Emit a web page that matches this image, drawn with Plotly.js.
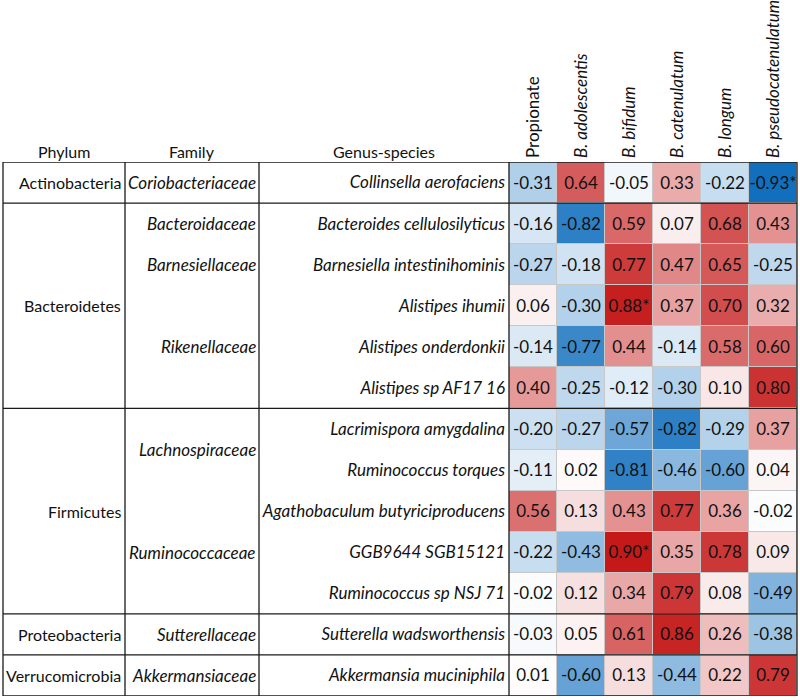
<!DOCTYPE html>
<html><head><meta charset="utf-8">
<script src="https://cdn.plot.ly/plotly-3.0.1.min.js"></script>
<style>html,body{margin:0;padding:0;background:#fff}</style>
</head><body><div id="chart" style="width:800px;height:700px"></div>
<script>
// ---- data ----
const columns = ["Propionate", "B. adolescentis", "B. bifidum", "B. catenulatum", "B. longum", "B. pseudocatenulatum"];
const columnLabels = ["Propionate", "<i>B. adolescentis</i>", "<i>B. bifidum</i>", "<i>B. catenulatum</i>", "<i>B. longum</i>", "<i>B. pseudocatenulatum</i>"];

const species = ["Collinsella aerofaciens", "Bacteroides cellulosilyticus", "Barnesiella intestinihominis",
  "Alistipes ihumii", "Alistipes onderdonkii", "Alistipes sp AF17 16", "Lacrimispora amygdalina",
  "Ruminococcus torques", "Agathobaculum butyriciproducens", "GGB9644 SGB15121", "Ruminococcus sp NSJ 71",
  "Sutterella wadsworthensis", "Akkermansia muciniphila"];

const phylumNames = ["Actinobacteria", "Bacteroidetes", "Firmicutes", "Proteobacteria", "Verrucomicrobia"];
const phylumSizes = [1, 5, 5, 1, 1];
const familyNames = ["Coriobacteriaceae", "Bacteroidaceae", "Barnesiellaceae", "Rikenellaceae", "Lachnospiraceae",
  "Ruminococcaceae", "Sutterellaceae", "Akkermansiaceae"];
const familySizes = [1, 1, 1, 3, 2, 3, 1, 1];

const propionate    = [-0.31, -0.16, -0.27, 0.06, -0.14, 0.40, -0.20, -0.11, 0.56, -0.22, -0.02, -0.03, 0.01];
const adolescentis  = [0.64, -0.82, -0.18, -0.30, -0.77, -0.25, -0.27, 0.02, 0.13, -0.43, 0.12, 0.05, -0.60];
const bifidum       = [-0.05, 0.59, 0.77, 0.88, 0.44, -0.12, -0.57, -0.81, 0.43, 0.90, 0.34, 0.61, 0.13];
const catenulatum   = [0.33, 0.07, 0.47, 0.37, -0.14, -0.30, -0.82, -0.46, 0.77, 0.35, 0.79, 0.86, -0.44];
const longum        = [-0.22, 0.68, 0.65, 0.70, 0.58, 0.10, -0.29, -0.60, 0.36, 0.78, 0.08, 0.26, 0.22];
const pseudocatenulatum = [-0.93, 0.43, -0.25, 0.32, 0.60, 0.80, 0.37, 0.04, -0.02, 0.09, -0.49, -0.38, 0.79];

// significant cells: [row, column]
const significant = [[0, 5], [3, 2], [9, 2]];

// ---- build ----
const series = [propionate, adolescentis, bifidum, catenulatum, longum, pseudocatenulatum];
const z = species.map((s, i) => series.map(col => col[i]));
const text = z.map((row, i) => row.map((v, j) =>
  v.toFixed(2) + (significant.some(p => p[0] === i && p[1] === j) ? "*" : "")));

const W = 800, H = 700;
const px = x => x / W;
const py = y => (H - y) / H;
const FONT = "Lato, 'Open Sans', sans-serif";
const FS = 17;

const trace = {
  type: "heatmap",
  x: columns, y: species, z: z,
  text: text, texttemplate: "%{text}",
  textfont: {size: FS, color: "#111", family: FONT},
  zmin: -1, zmax: 1,
  colorscale: [[0, "rgb(0,100,185)"], [0.5, "rgb(255,255,255)"], [1, "rgb(190,0,0)"]],
  showscale: false, xgap: 1, ygap: 1, hoverinfo: "skip"
};

const shapes = [];
const lineStyle = {color: "#1a1a1a", width: 1.3};
const nRows = species.length;
[3, 125, 259, 509, 797].forEach(x => shapes.push({type: "line", xref: "paper", yref: "y",
  x0: px(x), x1: px(x), y0: -0.5, y1: nRows - 0.5, line: lineStyle}));
let cum = 0;
const bounds = [-0.5];
phylumSizes.forEach(s => { cum += s; bounds.push(cum - 0.5); });
bounds.forEach(b => shapes.push({type: "line", xref: "paper", yref: "y",
  x0: px(3), x1: px(797), y0: b, y1: b, line: lineStyle}));

const annotations = [];
function groupLabels(names, sizes, xPix, italic, size) {
  let start = 0;
  names.forEach((n, k) => {
    const center = start + (sizes[k] - 1) / 2;
    annotations.push({xref: "paper", yref: "y", x: px(xPix), y: center, xanchor: "right", yanchor: "middle",
      text: italic ? "<i>" + n + "</i>" : n, showarrow: false, font: {size: size, color: "#111", family: FONT}});
    start += sizes[k];
  });
}
groupLabels(phylumNames, phylumSizes, 123, false, 16);
groupLabels(familyNames, familySizes, 258, true, FS);
[["Phylum", 64], ["Family", 192], ["Genus-species", 384]].forEach(h => annotations.push({
  xref: "paper", yref: "paper", x: px(h[1]), y: py(151), xanchor: "center", yanchor: "middle",
  text: h[0], showarrow: false, font: {size: 16, color: "#111", family: FONT}}));

const layout = {
  width: W, height: H,
  margin: {l: 0, r: 0, t: 0, b: 0},
  paper_bgcolor: "#ffffff", plot_bgcolor: "#c8c8c8",
  font: {family: FONT, color: "#111"},
  xaxis: {domain: [px(509), px(797)], side: "top", tickangle: -90, tickvals: columns, ticktext: columnLabels,
    showgrid: false, zeroline: false, ticks: "", ticklabelstandoff: 3, tickfont: {size: FS, family: FONT, color: "#111"},
    automargin: false, fixedrange: true, showline: false},
  yaxis: {domain: [4 / H, 538 / H], type: "category", categoryarray: species, range: [nRows - 0.5, -0.5],
    tickvals: species, ticktext: species.map(s => "<i>" + s + "</i>"), ticklabelstandoff: 3,
    showgrid: false, zeroline: false, ticks: "", tickfont: {size: FS, family: FONT, color: "#111"},
    automargin: false, fixedrange: true, showline: false},
  shapes: shapes, annotations: annotations, showlegend: false
};

Plotly.newPlot("chart", [trace], layout, {displayModeBar: false, staticPlot: true});
</script></body></html>
